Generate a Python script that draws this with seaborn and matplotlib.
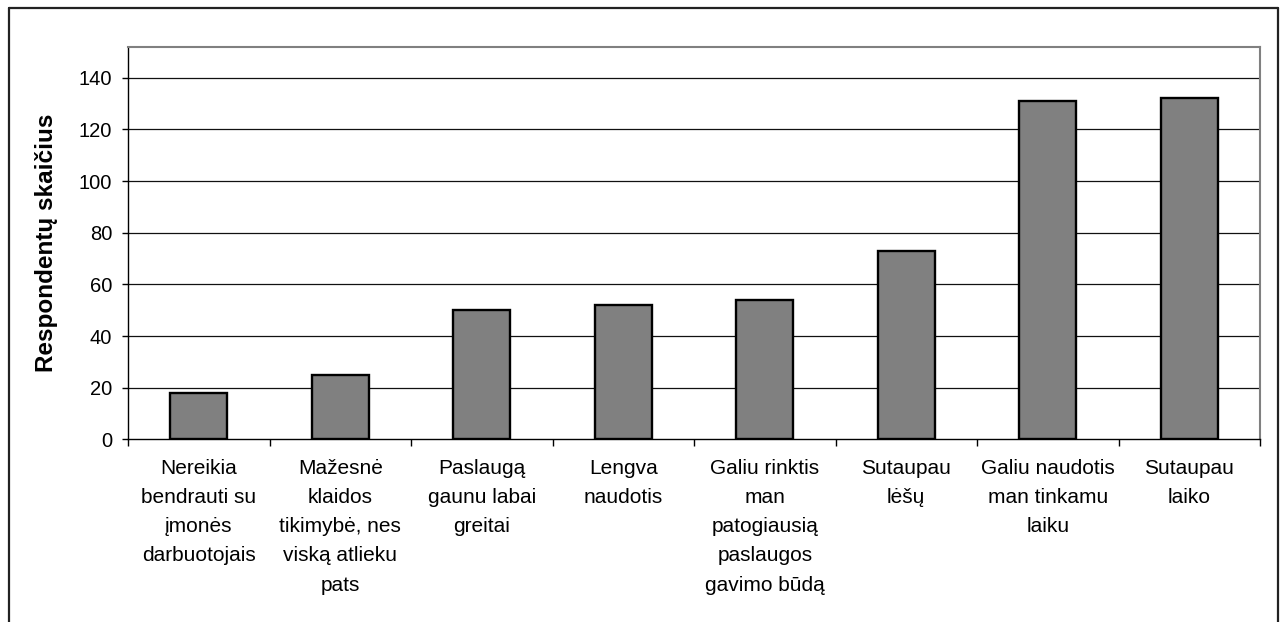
import matplotlib
matplotlib.use("Agg")
import matplotlib.pyplot as plt
from matplotlib.lines import Line2D
import seaborn as sns
import pandas as pd

categories = [
    "Nereikia\nbendrauti su\nįmonės\ndarbuotojais",
    "Mažesnė\nklaidos\ntikimybė, nes\nviską atlieku\npats",
    "Paslaugą\ngaunu labai\ngreitai",
    "Lengva\nnaudotis",
    "Galiu rinktis\nman\npatogiausią\npaslaugos\ngavimo būdą",
    "Sutaupau\nlėšų",
    "Galiu naudotis\nman tinkamu\nlaiku",
    "Sutaupau\nlaiko",
]
respondents = [18, 25, 50, 52, 54, 73, 131, 132]
y_ticks = [0, 20, 40, 60, 80, 100, 120, 140]
y_label = "Respondentų skaičius"

sns.set_theme(style="white")
plt.rcParams["font.family"] = ["Liberation Sans", "DejaVu Sans"]

df = pd.DataFrame({"category": categories, "count": respondents})

fig = plt.figure(figsize=(12.8, 6.22), dpi=100)
ax = fig.add_axes([0.1, 0.2937, 0.8844, 0.6312])

sns.barplot(data=df, x="category", y="count", ax=ax, width=0.4,
            color="#808080", saturation=1, edgecolor="black", linewidth=1.7,
            zorder=3)

ax.set_xlim(-0.5, len(categories) - 0.5)
ax.set_ylim(0, 152)
ax.set_yticks(y_ticks)
ax.set_yticklabels([str(v) for v in y_ticks], fontsize=14.5, color="black")

# horizontal grid lines at each labelled value above zero
for v in y_ticks[1:]:
    ax.axhline(v, color="#111111", lw=0.9, zorder=1)

# category labels centred, with tick marks at the boundaries between categories
ax.set_xticks(range(len(categories)))
ax.set_xticklabels(categories, fontsize=15, color="black", linespacing=1.68,
                   va="top", ha="center")
ax.set_xticks([i - 0.5 for i in range(len(categories) + 1)], minor=True)
ax.tick_params(axis="x", which="major", length=0, pad=14)
ax.tick_params(axis="x", which="minor", length=5, width=1, color="black",
               direction="out", bottom=True)
ax.tick_params(axis="y", which="major", length=4.3, width=1, color="black",
               direction="out", left=True, pad=7)

ax.set_xlabel("")
ax.set_ylabel(y_label, fontsize=17.5, fontweight="bold", color="black")
ax.yaxis.set_label_coords(-0.0618, 0.5)

for side in ("left", "bottom"):
    ax.spines[side].set_color("black")
    ax.spines[side].set_linewidth(1.0)
for side in ("top", "right"):
    ax.spines[side].set_color("#808080")
    ax.spines[side].set_linewidth(1.5)
ax.spines["bottom"].set_zorder(4)

# outer frame of the chart area
W, H = 1280, 622
frame_kw = dict(color="#222222", lw=1.6, transform=fig.transFigure)
fig.add_artist(Line2D([8.5 / W, 8.5 / W], [0, 1 - 8 / H], **frame_kw))
fig.add_artist(Line2D([8.5 / W, 1278 / W], [1 - 8 / H, 1 - 8 / H], **frame_kw))
fig.add_artist(Line2D([1278 / W, 1278 / W], [0, 1 - 8 / H], **frame_kw))

fig.savefig("out.png", dpi=100, facecolor="white")
